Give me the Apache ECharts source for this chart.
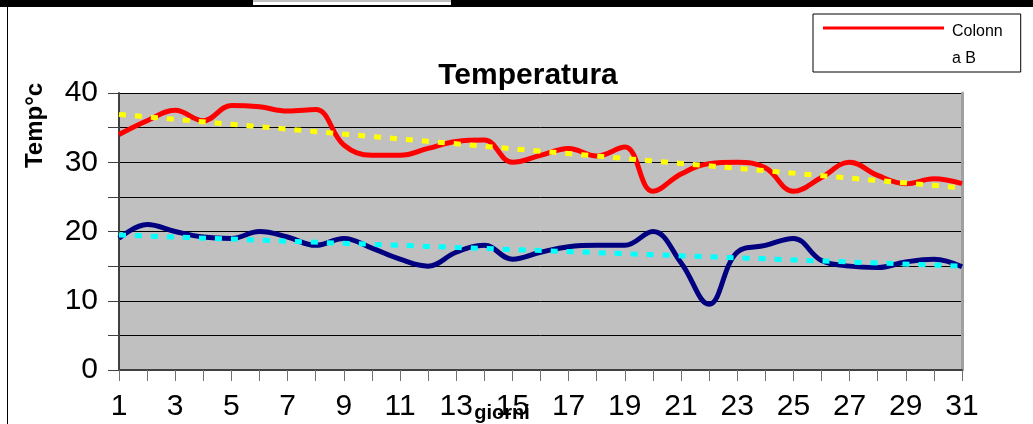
<!DOCTYPE html>
<html>
<head>
<meta charset="utf-8">
<script src="https://cdn.jsdelivr.net/npm/echarts@6/dist/echarts.min.js"></script>
<style>
html,body{margin:0;padding:0;background:#fff;}
#c{width:1033px;height:424px;}
</style>
</head>
<body>
<div id="c"></div>
<script>
// ---- data ----
const days = [1,2,3,4,5,6,7,8,9,10,11,12,13,14,15,16,17,18,19,20,21,22,23,24,25,26,27,28,29,30,31];
const tempMax = [34,36,37.5,36,38.2,38,37.4,37.6,32.5,31,31,32,33,33.2,30,31,32,30.9,32.2,25.8,28.3,29.8,30,29.2,25.8,27.8,30,28.1,26.9,27.6,26.9];
const tempMin = [19,21,20,19.2,19,20,19.2,18,19,17.6,16,15,17,18,16,17,17.8,18,18,20,15.5,9.5,17,18,19,15.8,15,14.8,15.6,16,14.9];
const trendMaxEnds = [36.9, 26.3];   // linear trend of tempMax at day 1 and day 31
const trendMinEnds = [19.5, 15.0];   // linear trend of tempMin at day 1 and day 31
const trendDays = [1, 31];
const yTickLabels = [0, 10, 20, 30, 40];
const seriesNames = ['Colonna B', 'Colonna C'];
const titleText = 'Temperatura';
const yName = 'Temp°c';
const xName = 'giorni';

const FONT = 'Liberation Sans, Arial, sans-serif';
const pairs = (xs, ys) => xs.map((x, i) => [x, ys[i]]);

const chart = echarts.init(document.getElementById('c'), null, {renderer: 'canvas'});
chart.setOption({
  animation: false,
  backgroundColor: '#ffffff',
  title: {
    text: titleText,
    left: 523, top: 56, textAlign: 'center',
    textStyle: {fontFamily: FONT, fontSize: 30, fontWeight: 'bold', color: '#000'}
  },
  legend: {
    data: [seriesNames[0]],
    left: 813, top: 14,
    orient: 'vertical',
    padding: [4, 18, 0, 10],
    borderColor: '#000', borderWidth: 1,
    itemWidth: 121, itemHeight: 54,
    icon: 'path://M0,0H0.01V0.01H0Z M0,8.5H121V11.5H0Z M0,53.99H0.01V54H0Z',
    formatter: () => 'Colonn\na B',
    textStyle: {fontFamily: FONT, fontSize: 16, color: '#000', lineHeight: 27, padding: [0, 0, 0, 3]}
  },
  grid: {left: 119, right: 71, top: 93, bottom: 54, show: true, backgroundColor: '#c0c0c0', borderWidth: 0,
         containLabel: false, outerBoundsMode: 'none'},
  xAxis: [{
    type: 'value', min: 1, max: 31, interval: 1,
    name: xName, nameLocation: 'middle', nameGap: 33, nameMoveOverlap: false,
    nameTextStyle: {fontFamily: FONT, fontSize: 20, fontWeight: 'bold', color: '#000', padding: [0, 77, 0, 0]},
    axisLine: {show: true, onZero: false, lineStyle: {color: '#404040', width: 2}},
    axisTick: {show: true, length: 11, lineStyle: {color: '#707070', width: 1}},
    axisLabel: {fontFamily: FONT, fontSize: 30, color: '#000', margin: 22, hideOverlap: false,
      formatter: v => (v % 2 === 1 ? String(v) : '')},
    splitLine: {show: false}
  }, {
    type: 'value', min: 1, max: 31, position: 'top',
    axisLine: {show: true, lineStyle: {color: '#404040', width: 2}},
    axisTick: {show: false}, axisLabel: {show: false}, splitLine: {show: false}
  }],
  yAxis: [{
    type: 'value', min: 0, max: 40, interval: 5,
    name: yName, nameLocation: 'middle', nameGap: 72, nameRotate: 90, nameMoveOverlap: false,
    nameTextStyle: {fontFamily: FONT, fontSize: 24, fontWeight: 'bold', color: '#000', padding: [0, 0, 0, 212]},
    axisLine: {show: true, lineStyle: {color: '#404040', width: 2}},
    axisTick: {show: true, length: 11, lineStyle: {color: '#404040', width: 1}},
    axisLabel: {fontFamily: FONT, fontSize: 30, color: '#000', margin: 21,
      formatter: v => (yTickLabels.indexOf(v) >= 0 ? String(v) : '')},
    splitLine: {show: true, lineStyle: {color: '#000', width: 1}}
  }, {
    type: 'value', min: 0, max: 40, position: 'right',
    axisLine: {show: true, lineStyle: {color: '#a0a0a0', width: 3}},
    axisTick: {show: false}, axisLabel: {show: false}, splitLine: {show: false}
  }],
  series: [
    {name: seriesNames[0], type: 'line', data: pairs(days, tempMax), smooth: 0.4, showSymbol: false,
     lineStyle: {color: '#ff0000', width: 5}, itemStyle: {color: '#ff0000'}, z: 2},
    {name: seriesNames[1], type: 'line', data: pairs(days, tempMin), smooth: 0.4, showSymbol: false,
     lineStyle: {color: '#000080', width: 5}, itemStyle: {color: '#000080'}, z: 2},
    {name: 'trend B', type: 'line', data: pairs(trendDays, trendMaxEnds), showSymbol: false,
     lineStyle: {color: '#ffff00', width: 5, type: [7, 9]}, itemStyle: {color: '#ffff00'}, z: 3},
    {name: 'trend C', type: 'line', data: pairs(trendDays, trendMinEnds), showSymbol: false,
     lineStyle: {color: '#00ffff', width: 5, type: [7, 9]}, itemStyle: {color: '#00ffff'}, z: 3}
  ],
  graphic: [
    {type: 'rect', shape: {x: 0, y: 0, width: 253, height: 7}, style: {fill: '#000'}, silent: true},
    {type: 'rect', shape: {x: 451, y: 0, width: 582, height: 7}, style: {fill: '#000'}, silent: true},
    {type: 'rect', shape: {x: 253, y: 0, width: 198, height: 2}, style: {fill: '#c0c0c0'}, silent: true},
    {type: 'rect', shape: {x: 253, y: 5, width: 198, height: 2}, style: {fill: '#000'}, silent: true},
    {type: 'rect', shape: {x: 7, y: 7, width: 1, height: 417}, style: {fill: '#000'}, silent: true}
  ]
});
</script>
</body>
</html>
